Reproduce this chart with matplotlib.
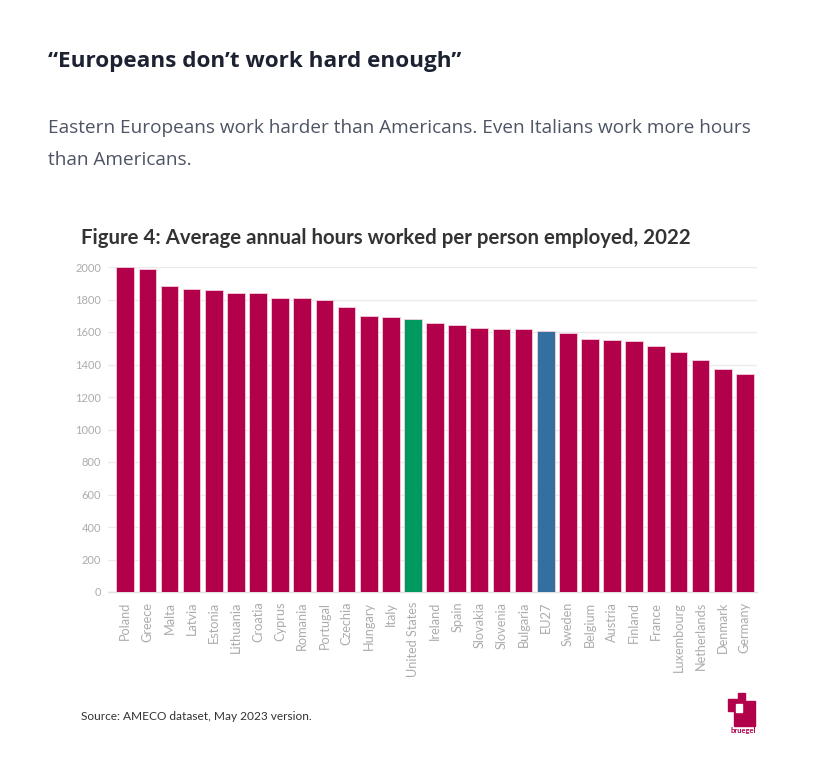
import matplotlib.pyplot as plt
import matplotlib as mpl
from matplotlib.patches import Rectangle

mpl.use('Agg')

# Average annual hours worked per person employed, 2022
countries = ['Poland', 'Greece', 'Malta', 'Latvia', 'Estonia', 'Lithuania', 'Croatia',
             'Cyprus', 'Romania', 'Portugal', 'Czechia', 'Hungary', 'Italy', 'United States',
             'Ireland', 'Spain', 'Slovakia', 'Slovenia', 'Bulgaria', 'EU27', 'Sweden',
             'Belgium', 'Austria', 'Finland', 'France', 'Luxembourg', 'Netherlands',
             'Denmark', 'Germany']
hours = [2000, 1988, 1881, 1867, 1859, 1840, 1838, 1810, 1808, 1795, 1755, 1699, 1693,
         1683, 1657, 1643, 1622, 1618, 1618, 1606, 1594, 1555, 1549, 1547, 1514, 1474,
         1429, 1375, 1341]
y_ticks = [0, 200, 400, 600, 800, 1000, 1200, 1400, 1600, 1800, 2000]

RED = '#b3004a'
GREEN = '#009a61'
BLUE = '#34709f'

colors = []
for c in countries:
    if c == 'United States':
        colors.append(GREEN)
    elif c == 'EU27':
        colors.append(BLUE)
    else:
        colors.append(RED)

W, H = 831, 777
fig = plt.figure(figsize=(W / 100, H / 100), dpi=100)
fig.patch.set_facecolor('white')


def fx(px):
    return px / W


def fy(py):
    return 1 - py / H


# Page title and intro text
fig.text(fx(48), fy(62), '\u201cEuropeans don\u2019t work hard enough\u201d', fontsize=16.2,
         fontweight='bold', color='#1d2232', family='Open Sans', va='center', ha='left')
fig.text(fx(48), fy(128), 'Eastern Europeans work harder than Americans. Even Italians work more hours',
         fontsize=13.7, color='#4d5464', family='Open Sans', va='center', ha='left')
fig.text(fx(48), fy(160), 'than Americans.', fontsize=13.7, color='#4d5464',
         family='Open Sans', va='center', ha='left')

# Figure title
fig.text(fx(81), fy(238), 'Figure 4: Average annual hours worked per person employed, 2022',
         fontsize=14.7, fontweight='bold', color='#333333', family='Lato', va='center', ha='left')

# Chart
left, right, top, bottom = 108, 757, 267, 592
ax = fig.add_axes([fx(left), fy(bottom), fx(right - left), (bottom - top) / H])
x = range(len(countries))
ax.bar(x, hours, width=0.8, color=colors, edgecolor='#f3d0dc', linewidth=0.6, zorder=3)
ax.set_xlim(-0.78, len(countries) - 0.45)
ax.set_ylim(0, 2000)
ax.set_yticks(y_ticks)
ax.set_yticklabels([str(v) for v in y_ticks], family='Lato', fontsize=8, color='#acacac')
ax.set_xticks(list(x))
ax.set_xticklabels(countries, rotation=90, family='Lato', fontsize=9.2, color='#acacac')
ax.tick_params(axis='x', length=0, pad=7)
ax.tick_params(axis='y', length=0, pad=5)
ax.grid(axis='y', color='#ebebeb', linewidth=1, zorder=0)
for s in ['top', 'right', 'left']:
    ax.spines[s].set_visible(False)
ax.spines['bottom'].set_color('#e2e2e2')
ax.spines['bottom'].set_linewidth(1)

# Source
fig.text(fx(81), fy(717), 'Source: AMECO dataset, May 2023 version.', fontsize=8.6,
         color='#333333', family='Lato', va='center', ha='left')

# bruegel logo (simplified)
def prect(x0, y0, x1, y1, color):
    fig.patches.append(Rectangle((fx(x0), fy(y1)), fx(x1 - x0), (y1 - y0) / H,
                                 transform=fig.transFigure, color=color, zorder=5))


prect(734, 701, 755, 726, RED)
prect(728, 699, 738, 711, RED)
prect(736, 704, 742, 712, 'white')
prect(738, 693, 745, 700, RED)
fig.text(fx(743), fy(731), 'bruegel', fontsize=5.5, fontweight='bold', color=RED,
         family='Lato', va='center', ha='center')

fig.savefig('out.png', dpi=100, facecolor='white')
